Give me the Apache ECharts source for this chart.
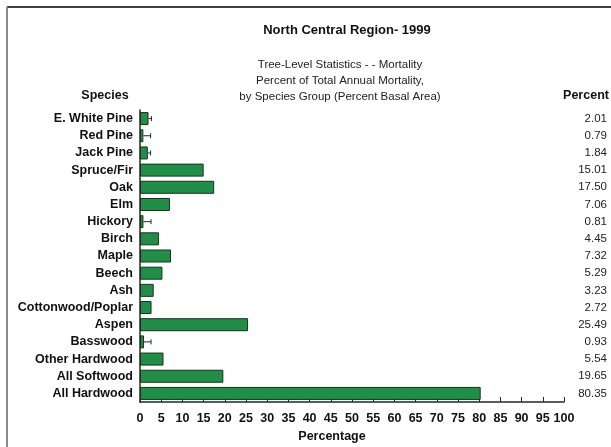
<!DOCTYPE html>
<html lang="en">
<head>
    <meta charset="UTF-8">
    <script src="https://cdn.jsdelivr.net/npm/echarts@6/dist/echarts.min.js"></script>
    <title>North Central Region - 1999</title>
    <style>
        body { margin: 0; background: #fff; }
    </style>
</head>
<body>
    <div id="mortality-bar" style="width: 611px;height:447px;"></div>
</body>
<script type="text/javascript">
    // species groups, top to bottom
    var species = ['E. White Pine', 'Red Pine', 'Jack Pine', 'Spruce/Fir', 'Oak', 'Elm', 'Hickory',
        'Birch', 'Maple', 'Beech', 'Ash', 'Cottonwood/Poplar', 'Aspen', 'Basswood',
        'Other Hardwood', 'All Softwood', 'All Hardwood'];
    // percent of total annual mortality
    var percents = [2.01, 0.79, 1.84, 15.01, 17.50, 7.06, 0.81, 4.45, 7.32, 5.29, 3.23, 2.72,
        25.49, 0.93, 5.54, 19.65, 80.35];
    // end of the small error whiskers (only visible on the small bars)
    var errorEnds = [2.7, 2.5, 2.5, null, null, null, 2.6, null, null, null, null, null,
        null, 2.6, null, null, null];
    var xTicks = [0, 100, 5];   // min, max, interval

    var chart = echarts.init(document.getElementById('mortality-bar'));

    var whiskerData = [];
    errorEnds.forEach(function (e, i) {
        if (e !== null) whiskerData.push([percents[i], i, e]);
    });

    var lineColor = '#1b2e1f';

    chart.setOption({
        animation: false,
        textStyle: { fontFamily: 'Liberation Sans, Arial, sans-serif' },
        grid: { left: 140, right: 47, top: 110, height: 292 },
        xAxis: {
            type: 'value',
            min: xTicks[0],
            max: xTicks[1],
            interval: xTicks[2],
            splitLine: { show: false },
            axisLine: { show: true, lineStyle: { color: lineColor, width: 1.5 } },
            axisTick: { show: true, inside: true, length: 5, lineStyle: { color: lineColor } },
            axisLabel: { color: '#111', fontWeight: 'bold', fontSize: 12.5, margin: 10 }
        },
        yAxis: [{
            type: 'category',
            data: species,
            inverse: true,
            axisLine: { show: true, lineStyle: { color: lineColor, width: 1.5 } },
            axisTick: { show: false },
            axisLabel: { color: '#111', fontWeight: 'bold', fontSize: 12.5, margin: 7, interval: 0 }
        }, {
            type: 'category',
            data: percents.map(function (v) { return v.toFixed(2); }),
            inverse: true,
            position: 'right',
            axisLine: { show: false },
            axisTick: { show: false },
            axisLabel: { color: '#222', fontSize: 11.5, margin: 43, align: 'right', interval: 0 }
        }],
        series: [{
            type: 'bar',
            data: percents,
            barWidth: 13,
            itemStyle: { color: '#218e48', borderColor: '#16321c', borderWidth: 1 }
        }, {
            type: 'custom',
            data: whiskerData,
            encode: { x: [0, 2], y: 1 },
            z: 3,
            renderItem: function (params, api) {
                var start = api.coord([api.value(0), api.value(1)]);
                var end = api.coord([api.value(2), api.value(1)]);
                return {
                    type: 'group',
                    children: [{
                        type: 'line',
                        shape: { x1: start[0], y1: start[1], x2: end[0], y2: end[1] },
                        style: { stroke: lineColor, lineWidth: 1 }
                    }, {
                        type: 'line',
                        shape: { x1: end[0], y1: end[1] - 2.5, x2: end[0], y2: end[1] + 2.5 },
                        style: { stroke: lineColor, lineWidth: 1 }
                    }]
                };
            }
        }],
        graphic: [
            { type: 'line', shape: { x1: 7, y1: 7, x2: 611, y2: 7 }, style: { stroke: '#000', lineWidth: 1.5 } },
            { type: 'line', shape: { x1: 7, y1: 7, x2: 7, y2: 447 }, style: { stroke: '#8a8a8a', lineWidth: 2 } },
            { type: 'text', x: 347, y: 24, style: { text: 'North Central Region- 1999', font: 'bold 13px Liberation Sans, Arial', fill: '#111', align: 'center' } },
            { type: 'text', x: 340, y: 57, style: { text: 'Tree-Level Statistics - - Mortality\nPercent of Total Annual Mortality,\nby Species Group (Percent Basal Area)', font: '11.5px Liberation Sans, Arial', fill: '#222', align: 'center', lineHeight: 16 } },
            { type: 'text', x: 105, y: 89, style: { text: 'Species', font: 'bold 12.5px Liberation Sans, Arial', fill: '#111', align: 'center' } },
            { type: 'text', x: 586, y: 89, style: { text: 'Percent', font: 'bold 12.5px Liberation Sans, Arial', fill: '#111', align: 'center' } },
            { type: 'text', x: 332, y: 430, style: { text: 'Percentage', font: 'bold 12.5px Liberation Sans, Arial', fill: '#111', align: 'center' } }
        ]
    });
</script>
</html>
